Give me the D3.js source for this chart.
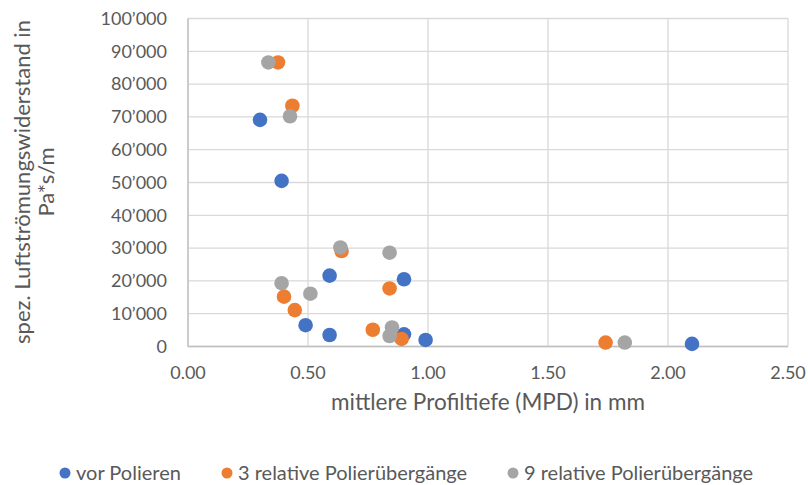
<!DOCTYPE html>
<html><head><meta charset="utf-8">
<script src="https://cdn.jsdelivr.net/npm/d3@7"></script>
<style>body{margin:0;background:#fff}svg{display:block}text{font-family:Lato,"Liberation Sans",sans-serif;fill:#595959}</style>
</head><body><svg id="c" width="808" height="485"></svg>
<script>
const seriesNames = ["vor Polieren", "3 relative Polierübergänge", "9 relative Polierübergänge"];
const seriesColors = ["#4472C4", "#ED7D31", "#A5A5A5"];
const vorX = [0.30, 0.39, 0.59, 0.90, 0.49, 0.59, 0.90, 0.99, 2.10];
const vorY = [69100, 50500, 21600, 20500, 6500, 3500, 3700, 2000, 800];
const p3X = [0.375, 0.435, 0.64, 0.84, 0.40, 0.445, 0.77, 0.89, 1.74];
const p3Y = [86600, 73400, 29100, 17700, 15200, 11100, 5100, 2300, 1200];
const p9X = [0.335, 0.425, 0.635, 0.84, 0.39, 0.51, 0.85, 0.84, 1.82];
const p9Y = [86600, 70200, 30200, 28600, 19300, 16100, 5800, 3200, 1200];
const xTicks = [0, 0.5, 1, 1.5, 2, 2.5];
const yTicks = [0, 10000, 20000, 30000, 40000, 50000, 60000, 70000, 80000, 90000, 100000];

const svg = d3.select("#c");
const m = {l:188, r:788, t:18.5, b:346.5};
const x = d3.scaleLinear().domain([0, 2.5]).range([m.l, m.r]);
const y = d3.scaleLinear().domain([0, 100000]).range([m.b, m.t]);
const fmtY = v => d3.format(",")(v).replace(/,/g, "’");

// gridlines
const g = svg.append("g");
g.selectAll(".hg").data(yTicks).join("line")
  .attr("x1", m.l).attr("x2", m.r).attr("y1", d => y(d)).attr("y2", d => y(d))
  .attr("stroke", "#D9D9D9").attr("stroke-width", 1.3);
g.selectAll(".vg").data(xTicks).join("line")
  .attr("y1", m.t).attr("y2", m.b).attr("x1", d => x(d)).attr("x2", d => x(d))
  .attr("stroke", "#D9D9D9").attr("stroke-width", 1.3);
// axis lines
svg.append("line").attr("x1", m.l).attr("x2", m.r).attr("y1", y(0)).attr("y2", y(0)).attr("stroke", "#BFBFBF").attr("stroke-width", 1.3);
svg.append("line").attr("x1", x(0)).attr("x2", x(0)).attr("y1", m.t).attr("y2", m.b).attr("stroke", "#BFBFBF").attr("stroke-width", 1.3);

// tick labels
svg.append("g").selectAll("text").data(yTicks).join("text")
  .attr("x", 167).attr("y", d => y(d)).attr("dy", "0.35em").attr("text-anchor", "end")
  .attr("font-size", 18).text(fmtY);
svg.append("g").selectAll("text").data(xTicks).join("text")
  .attr("x", d => x(d)).attr("y", 379).attr("text-anchor", "middle")
  .attr("font-size", 18).text(d => d3.format(".2f")(d));

// axis titles
svg.append("text").attr("x", 488).attr("y", 410).attr("text-anchor", "middle")
  .attr("font-size", 22.5).text("mittlere Profiltiefe (MPD) in mm");
const yt = svg.append("text").attr("transform", "translate(0,182) rotate(-90)").attr("text-anchor", "middle").attr("font-size", 22);
yt.append("tspan").attr("x", 0).attr("y", 30).text("spez. Luftströmungswiderstand in");
yt.append("tspan").attr("x", 0).attr("y", 54).text("Pa*s/m");

// points
const series = [[vorX, vorY], [p3X, p3Y], [p9X, p9Y]];
series.forEach((s, i) => {
  svg.append("g").selectAll("circle").data(s[0].map((v, j) => [v, s[1][j]])).join("circle")
    .attr("cx", d => x(d[0])).attr("cy", d => y(d[1])).attr("r", 7.3)
    .attr("fill", seriesColors[i]);
});

// legend
const legX = [65, 227, 513];
seriesNames.forEach((n, i) => {
  svg.append("circle").attr("cx", legX[i]).attr("cy", 473).attr("r", 5.5).attr("fill", seriesColors[i]);
  svg.append("text").attr("x", legX[i] + 11).attr("y", 473).attr("dy", "0.35em").attr("font-size", 20).text(n);
});
</script></body></html>
